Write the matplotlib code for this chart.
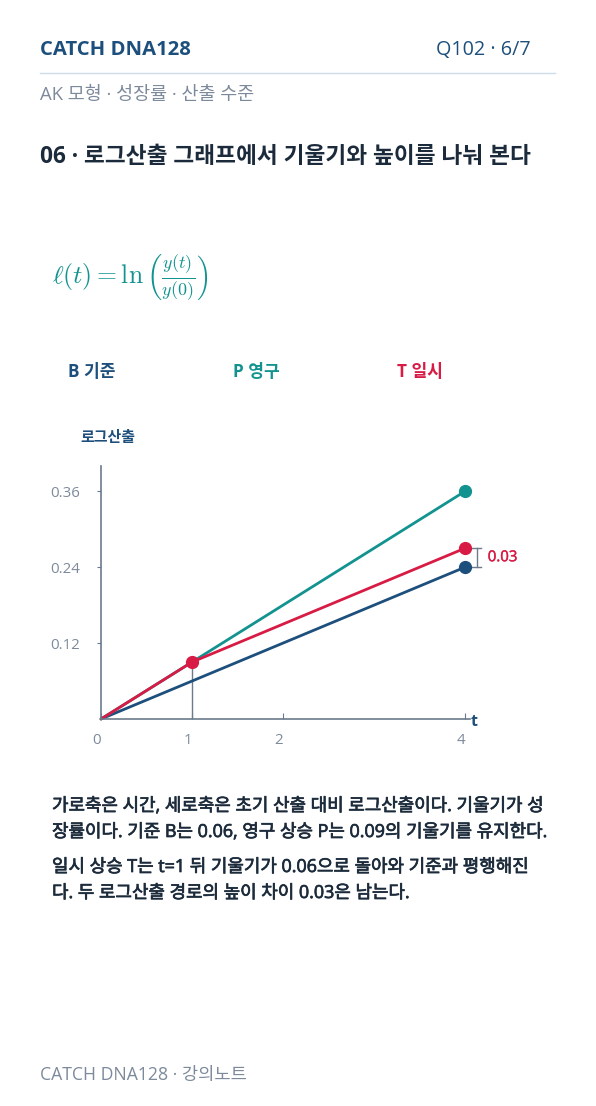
import matplotlib
matplotlib.use('Agg')
import matplotlib.pyplot as plt
import matplotlib.patheffects as pe

plt.rcParams['font.family'] = ['Open Sans', 'Noto Sans CJK KR', 'DejaVu Sans']
plt.rcParams['mathtext.fontset'] = 'cm'

# data
t_vals = [0, 1, 4]
base_B = [0, 0.06, 0.24]
perm_P = [0, 0.09, 0.36]
temp_T = [0, 0.09, 0.27]
y_ticks = [0.12, 0.24, 0.36]
x_ticks = [0, 1, 2, 4]
gap = 0.03

NAVY = '#1d4f7c'
TEAL = '#12938f'
RED = '#d81b45'
GREY = '#6b7a8c'
LIGHT = '#7d8a9b'
DARK = '#1c2b3b'

W, H = 596, 1106
fig = plt.figure(figsize=(W / 100, H / 100), dpi=100)
fig.patch.set_facecolor('white')


def fy(y):
    return 1 - y / H


def fx(x):
    return x / W


# header
fig.text(fx(40), fy(50), 'CATCH DNA128', fontsize=14.6, fontweight='bold', color=NAVY, va='center')
fig.text(fx(531), fy(50), 'Q102 · 6/7', fontsize=14.2, color=NAVY, va='center', ha='right')
fig.add_artist(plt.Line2D([fx(40), fx(555)], [fy(73), fy(73)], color='#cfdcea', lw=1))
fig.text(fx(40), fy(95), 'AK 모형 · 성장률 · 산출 수준', fontsize=13.3, color=LIGHT, va='center')
fig.text(fx(40), fy(157), '06 · 로그산출 그래프에서 기울기와 높이를 나눠 본다', fontsize=16.3,
         fontweight='bold', color=DARK, va='center')

# formula
fig.text(fx(52), fy(277), r'$\ell(t) = \ln\left(\frac{y(t)}{y(0)}\right)$', fontsize=18.5,
         color=TEAL, va='center')

# legend labels
fig.text(fx(68), fy(372), 'B 기준', fontsize=12.3, fontweight='bold', color=NAVY, va='center')
fig.text(fx(233), fy(372), 'P 영구', fontsize=12.3, fontweight='bold', color=TEAL, va='center')
fig.text(fx(397), fy(372), 'T 일시', fontsize=12.3, fontweight='bold', color=RED, va='center')
fig.text(fx(80), fy(438), '로그산출', fontsize=10.8, fontweight='bold', color=NAVY, va='center')

# chart axes: 91 px per t unit, ylim 0..0.4
unit = 91
ax = fig.add_axes([fx(101), fy(719), 4.2 * unit / W, (719 - 466) / H])
ax.set_xlim(0, 4.2)
ax.set_ylim(0, 0.4)
ax.patch.set_alpha(0)
for s in ['top', 'right']:
    ax.spines[s].set_visible(False)
ax.spines['left'].set_color(GREY)
ax.spines['bottom'].set_color(GREY)
ax.spines['left'].set_linewidth(1.2)
ax.spines['bottom'].set_linewidth(1.2)
ax.spines['bottom'].set_bounds(0, 4.05)

ax.set_yticks(y_ticks)
ax.set_yticklabels([f'{v:.2f}' for v in y_ticks])
ax.set_xticks(x_ticks)
ax.set_xticklabels([str(v) for v in x_ticks])
ax.tick_params(axis='y', direction='out', length=3, color=GREY, labelcolor=LIGHT, labelsize=10.8, pad=12)
ax.tick_params(axis='x', direction='in', length=4, color=GREY, labelcolor=LIGHT, labelsize=10.8, pad=10)
for lbl in ax.get_xticklabels():
    lbl.set_horizontalalignment('right')

# guide at t=1
ax.plot([t_vals[1], t_vals[1]], [0, temp_T[1]], color=GREY, lw=1)

ax.plot(t_vals, base_B, color=NAVY, lw=2, solid_capstyle='round', clip_on=False)
ax.plot(t_vals, perm_P, color=TEAL, lw=2, solid_capstyle='round', clip_on=False)
ax.plot(t_vals, temp_T, color=RED, lw=2, solid_capstyle='round', clip_on=False)

ax.plot(t_vals[-1], base_B[-1], 'o', color=NAVY, ms=8.5, clip_on=False, zorder=5)
ax.plot(t_vals[-1], perm_P[-1], 'o', color=TEAL, ms=8.5, clip_on=False, zorder=5)
ax.plot(t_vals[1:], temp_T[1:], 'o', color=RED, ms=8.5, ls='none', clip_on=False, zorder=6)

# gap bracket
bx = 4.13
ax.plot([bx, bx], [base_B[-1], temp_T[-1]], color=GREY, lw=1, clip_on=False)
ax.plot([bx - 0.05, bx + 0.05], [base_B[-1], base_B[-1]], color=GREY, lw=1, clip_on=False)
ax.plot([bx - 0.05, bx + 0.05], [temp_T[-1], temp_T[-1]], color=GREY, lw=1, clip_on=False)
ax.text(bx + 0.12, (base_B[-1] + temp_T[-1]) / 2, f'{gap:.2f}', color=RED, fontsize=10.8,
        va='center', ha='left', clip_on=False,
        path_effects=[pe.withStroke(linewidth=0.3, foreground=RED)])

fig.text(fx(474), fy(722), 't', fontsize=11.5, fontweight='bold', color=NAVY, va='center', ha='center')

# body text
body = [
    (806, '가로축은 시간, 세로축은 초기 산출 대비 로그산출이다. 기울기가 성'),
    (832, '장률이다. 기준 B는 0.06, 영구 상승 P는 0.09의 기울기를 유지한다.'),
    (867, '일시 상승 T는 t=1 뒤 기울기가 0.06으로 돌아와 기준과 평행해진'),
    (893, '다. 두 로그산출 경로의 높이 차이 0.03은 남는다.'),
]
for y, line in body:
    fig.text(fx(52), fy(y), line, fontsize=12.9, color=DARK, va='center',
             path_effects=[pe.withStroke(linewidth=0.5, foreground=DARK)])

fig.text(fx(40), fy(1075), 'CATCH DNA128 · 강의노트', fontsize=12.7, color=LIGHT, va='center')

fig.savefig('out.png', dpi=100, facecolor='white')
